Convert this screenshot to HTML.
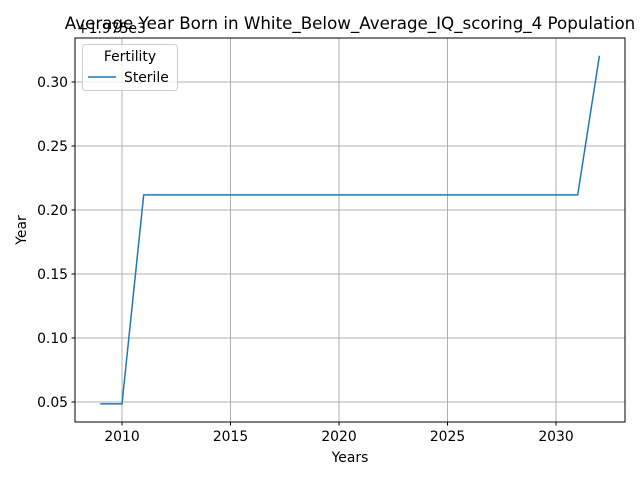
<!DOCTYPE html>
<html><head><meta charset="utf-8"><style>
body{margin:0;background:#fff;}
svg{font-family:"DejaVu Sans","Liberation Sans",sans-serif;}
</style></head><body>
<svg id="c" width="640" height="480">
<rect x="0" y="0" width="640" height="480" fill="#fff"/>
<g id="grid"></g>
<g id="ticks"></g>
<g id="series"></g>
<rect x="75" y="38" width="550" height="384" fill="none" stroke="#000" stroke-width="1"/>
<text x="350" y="29" font-size="16.7" text-anchor="middle">Average Year Born in White_Below_Average_IQ_scoring_4 Population</text>
<text x="77" y="33" font-size="13.9">+1.975e3</text>
<text x="350" y="462" font-size="13.9" text-anchor="middle">Years</text>
<text x="26" y="230" font-size="13.9" text-anchor="middle" transform="rotate(-90 26 230)">Year</text>
<g>
<rect x="82.5" y="44.5" width="95" height="46" rx="3" fill="#fff" fill-opacity="0.8" stroke="#ccc"/>
<text x="130" y="61" font-size="13.9" text-anchor="middle">Fertility</text>
<line x1="88" y1="77" x2="116" y2="77" stroke="#1f77b4" stroke-width="1.5"/>
<text x="124" y="82" font-size="13.9">Sterile</text>
</g>
</svg>
<script>
const years=[2009,2010,2011,2012,2013,2014,2015,2016,2017,2018,2019,2020,2021,2022,2023,2024,2025,2026,2027,2028,2029,2030,2031,2032];
const sterile=[0.0485,0.0485,0.2118,0.2118,0.2118,0.2118,0.2118,0.2118,0.2118,0.2118,0.2118,0.2118,0.2118,0.2118,0.2118,0.2118,0.2118,0.2118,0.2118,0.2118,0.2118,0.2118,0.2118,0.3205];
const xTicks=[2010,2015,2020,2025,2030];
const yTicks=[0.05,0.10,0.15,0.20,0.25,0.30];
const yTickLabels=["0.05","0.10","0.15","0.20","0.25","0.30"];
const NS="http://www.w3.org/2000/svg";
function X(v){return 122+(v-2010)*21.7;}
function Y(v){return 402-(v-0.05)*1280;}
function mk(t,a,p){const e=document.createElementNS(NS,t);for(const k in a)e.setAttribute(k,a[k]);p.appendChild(e);return e;}
const g=document.getElementById('grid'),tk=document.getElementById('ticks'),s=document.getElementById('series');
xTicks.forEach(v=>{
 const l=mk('line',{x1:X(v),x2:X(v),y1:38,y2:422,stroke:'#b0b0b0','stroke-width':1},g);
 
 
 const t=mk('line',{x1:X(v),x2:X(v),y1:422,y2:425.5,stroke:'#000'},tk);
 
 
 const tx=mk('text',{x:X(v),y:441,'font-size':13.9,'text-anchor':'middle'},tk);tx.textContent=v;
 
 
});
yTicks.forEach((v,i)=>{
 const l=mk('line',{x1:75,x2:625,y1:Y(v),y2:Y(v),stroke:'#b0b0b0','stroke-width':1},g);
 
 
 const t=mk('line',{x1:71.5,x2:75,y1:Y(v),y2:Y(v),stroke:'#000'},tk);
 
 
 const tx=mk('text',{x:68,y:Y(v)+5,'font-size':13.9,'text-anchor':'end'},tk);tx.textContent=yTickLabels[i];
 
 
});
const p=mk('polyline',{points:years.map((y,i)=>X(y)+','+Y(sterile[i])).join(' '),fill:'none',stroke:'#1f77b4','stroke-width':1.5},s);


</script>
</body></html>
